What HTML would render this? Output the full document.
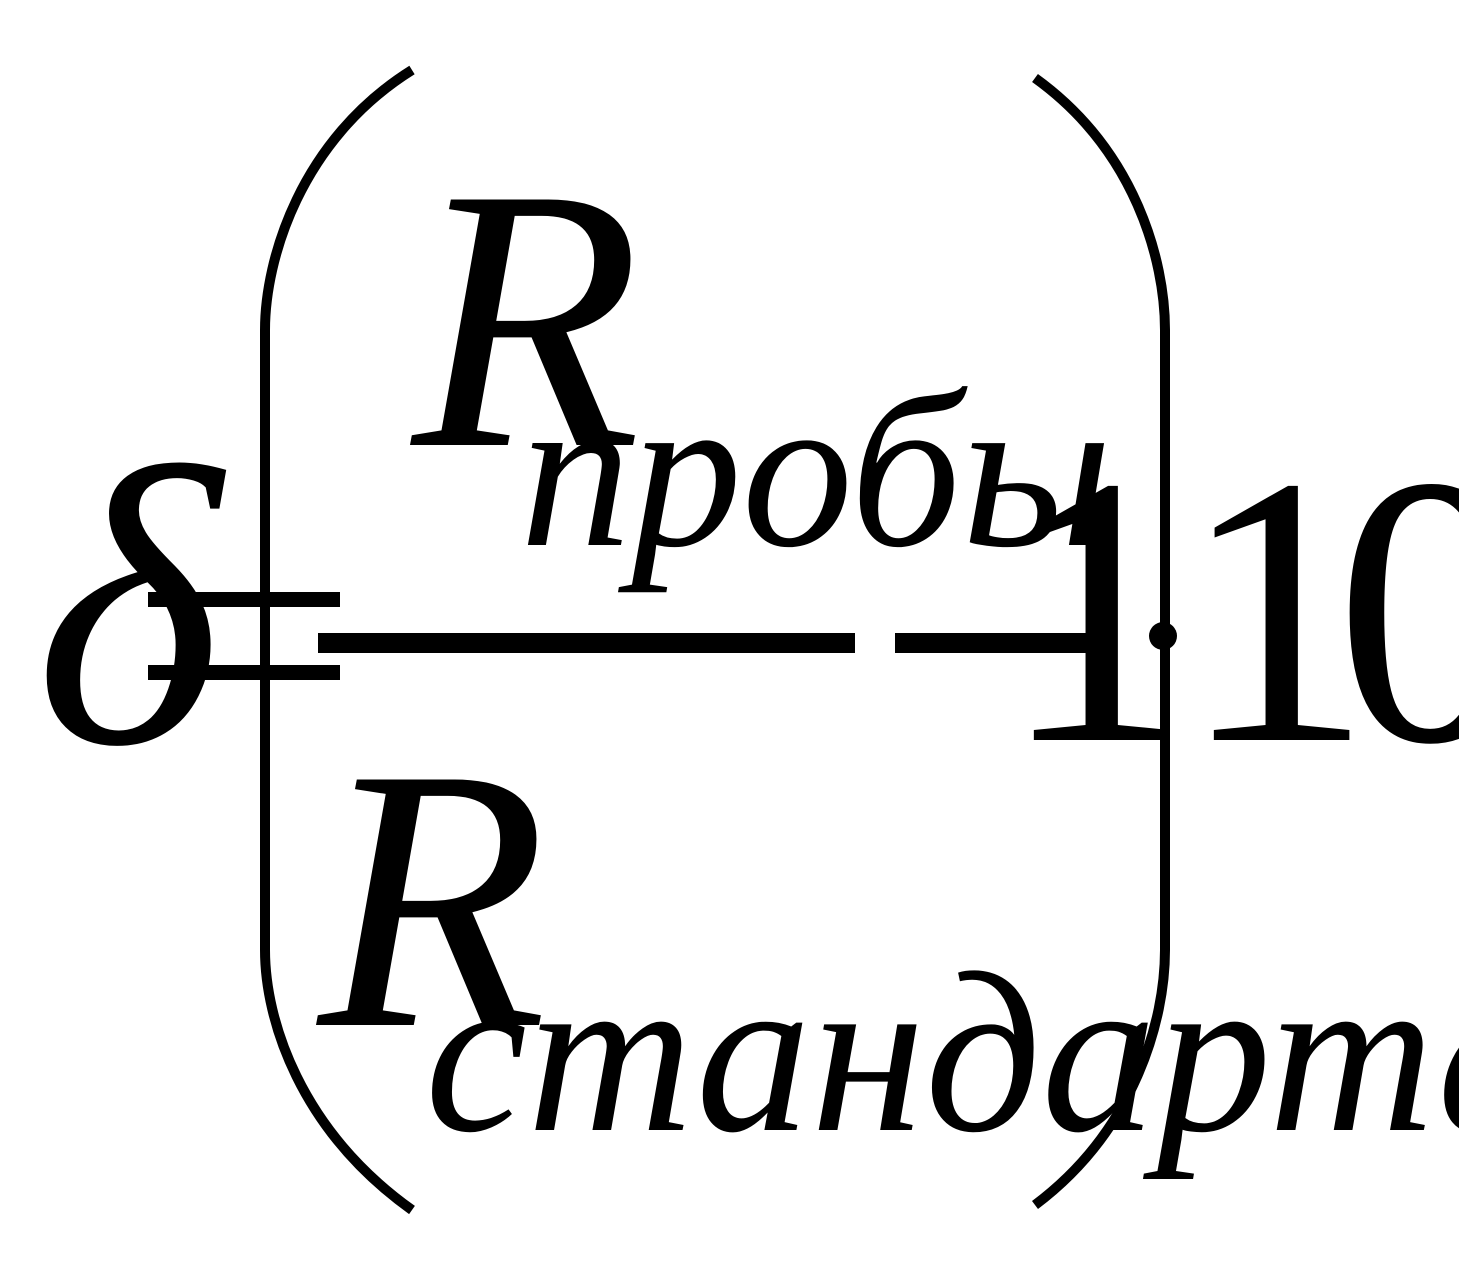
<!DOCTYPE html>
<html><head><meta charset="utf-8"><style>
html,body{margin:0;padding:0;background:#fff;overflow:hidden}
svg{display:block}
text{font-family:"Liberation Serif",serif;fill:#000}
</style></head><body>
<svg width="1459" height="1280" viewBox="0 0 1459 1280" xmlns="http://www.w3.org/2000/svg">
<text x="35" y="742" font-size="400" font-style="italic">δ</text>
<rect x="148" y="592" width="192" height="15"/>
<rect x="148" y="665" width="192" height="15"/>
<path d="M412 70 C300 140 265 260 265 330 L265 950 C265 1020 300 1130 412 1210" fill="none" stroke="#000" stroke-width="10"/>
<path d="M1035 78 C1135 150 1165 260 1165 330 L1165 950 C1165 1020 1135 1130 1035 1205" fill="none" stroke="#000" stroke-width="10"/>
<text x="412" y="445" font-size="375" font-style="italic">R</text>
<text x="520" y="545" font-size="222" font-style="italic">пробы</text>
<rect x="318" y="633" width="537" height="20"/>
<text x="318" y="1025" font-size="375" font-style="italic">R</text>
<text x="425" y="1130" font-size="230" font-style="italic">стандарта</text>
<rect x="895" y="633" width="205" height="20"/>
<text x="1000" y="740" font-size="385">1</text>
<circle cx="1163" cy="636" r="14"/>
<text x="1180" y="740" font-size="385">1</text>
<text x="1335" y="740" font-size="385">0</text>
</svg>
</body></html>
